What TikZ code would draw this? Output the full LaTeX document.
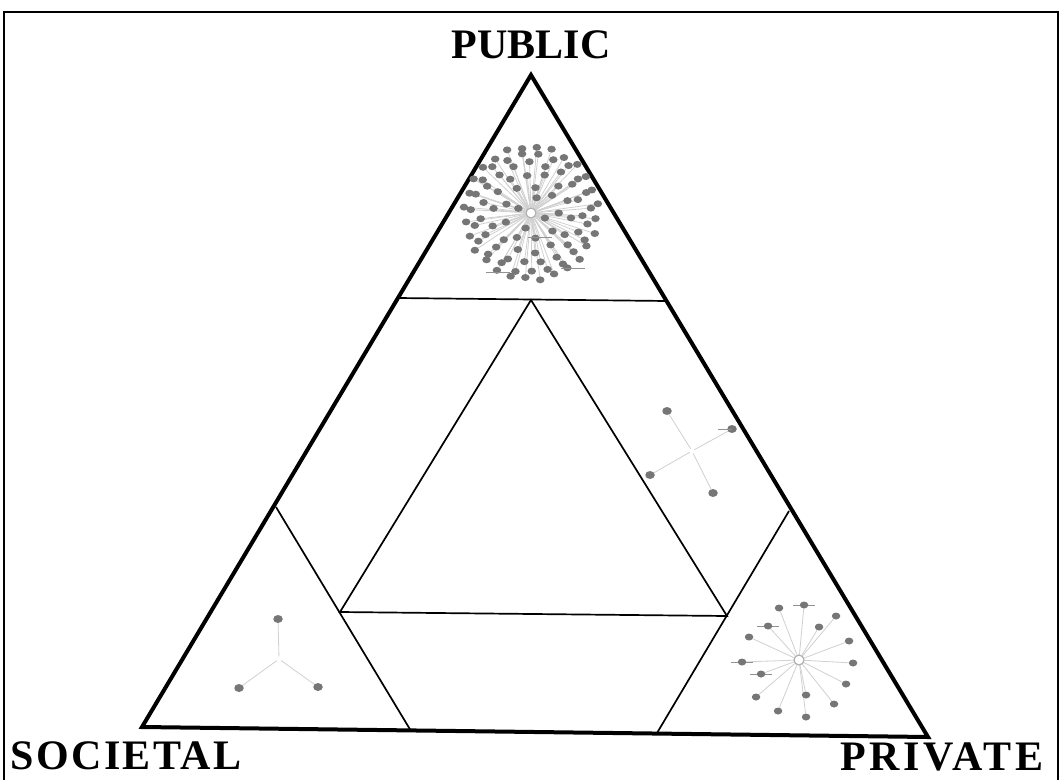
\documentclass[tikz,border=0pt]{standalone}
\usepackage{fontspec}
\setmainfont{Liberation Serif}
\usetikzlibrary{shapes.geometric,positioning,calc,backgrounds}
\definecolor{netgray}{RGB}{118,118,118}
\definecolor{edgegray}{RGB}{208,208,208}

\begin{document}
\begin{tikzpicture}[x=1pt, y=-1pt,
  corner/.style={font=\fontsize{42}{46}\selectfont\bfseries, inner sep=0pt},
  frame/.style={line width=2pt},
  outer/.style={line width=4pt, line join=miter},
  cut/.style={line width=1.7pt},
  dot/.style={ellipse, fill=netgray, minimum width=8.5pt, minimum height=7pt, inner sep=0pt},
  bigdot/.style={dot, minimum width=9.5pt, minimum height=8pt},
  hub/.style={circle, draw=netgray!60, line width=1.2pt, fill=white, minimum size=10pt, inner sep=0pt},
  nohub/.style={circle, minimum size=5pt, inner sep=0pt},
  link/.style={edgegray, line width=0.8pt},
  tag/.style={netgray!80, line width=1pt}]
\useasboundingbox (0,0) rectangle (1062,779);
\draw[frame] (4,790) -- (4,12) -- (1058,12) -- (1058,790);

% corner labels
\node[corner] (public) at (531,45) {PUBLIC};
\node[corner, anchor=west] (societal) at (10,756) {\addfontfeatures{LetterSpace=6}SOCIETAL};
\node[corner, anchor=west] (private) at (840,757) {\addfontfeatures{LetterSpace=9}PRIVATE};

% outer triangle and cuts
\coordinate (T) at (531,75);
\coordinate (L) at (142,727);
\coordinate (R) at (928,737);
\coordinate (tl) at (398,298);
\coordinate (tr) at (667,301);
\coordinate (ll) at (276,507);
\coordinate (lb) at (411,731);
\coordinate (rr) at (789,511);
\coordinate (rb) at (657,733);
\coordinate (ia) at (531,300);
\coordinate (ib) at (340,612);
\coordinate (ic) at (727,616);
\draw[outer] (T) -- (L) -- (R) -- cycle;
\draw[cut] (tl) -- (tr);
\draw[cut] (ll) -- (lb);
\draw[cut] (rr) -- (rb);
\draw[cut] (ia) -- (ib) -- (ic) -- cycle;

% public network
\node[hub] (pubhub) at (531,213) {};
\foreach \r/\n/\o [count=\k] in {15/4/20, 27/9/0, 39/14/7, 50/19/3, 59/23/11, 66/28/5}
  \foreach \j in {1,...,\n} {
    \node[dot] (pub-\k-\j) at ($(pubhub)+({\o+360*\j/\n}:{\r+1.5*sin(137*\j)})$) {};
    \begin{scope}[on background layer]
      \draw[link] (pubhub) -- (pub-\k-\j);
    \end{scope}
  }
\foreach \x/\y [count=\i] in {540/237, 498/272, 573/268} {
  \draw[tag] (\x-12,\y) coordinate (pubtag-\i) -- ++(24,0);
}

% private network
\node[hub] (prvhub) at (799,660) {};
\foreach \x/\y/\t [count=\i] in {779/608/0, 804/605/1, 836/616/0, 819/627/0,
    768/626/1, 749/637/0, 849/641/0, 742/662/1, 853/663/0, 761/674/1,
    846/684/0, 756/697/0, 806/695/0, 834/704/0, 778/711/0, 806/717/0} {
  \node[dot] (prv-\i) at (\x,\y) {};
  \begin{scope}[on background layer]
    \draw[link] (prvhub) -- (prv-\i);
    \ifnum\t=1 \draw[tag] ($(prv-\i)+(-11,0)$) -- ($(prv-\i)+(11,0)$); \fi
  \end{scope}
}

% public-private network
\node[nohub] (mixhub) at (692,451) {};
\foreach \x/\y [count=\i] in {667/411, 732/429, 650/475, 713/493} {
  \node[bigdot] (mix-\i) at (\x,\y) {};
  \begin{scope}[on background layer]
    \draw[link] (mixhub) -- (mix-\i);
  \end{scope}
}
\draw[tag] (mix-2.center) -- ++(-14,0);

% societal network
\node[nohub] (sochub) at (279,659) {};
\foreach \x/\y [count=\i] in {278/619, 239/688, 318/687} {
  \node[bigdot] (soc-\i) at (\x,\y) {};
  \begin{scope}[on background layer]
    \draw[link] (sochub) -- (soc-\i);
  \end{scope}
}
\end{tikzpicture}
\end{document}
